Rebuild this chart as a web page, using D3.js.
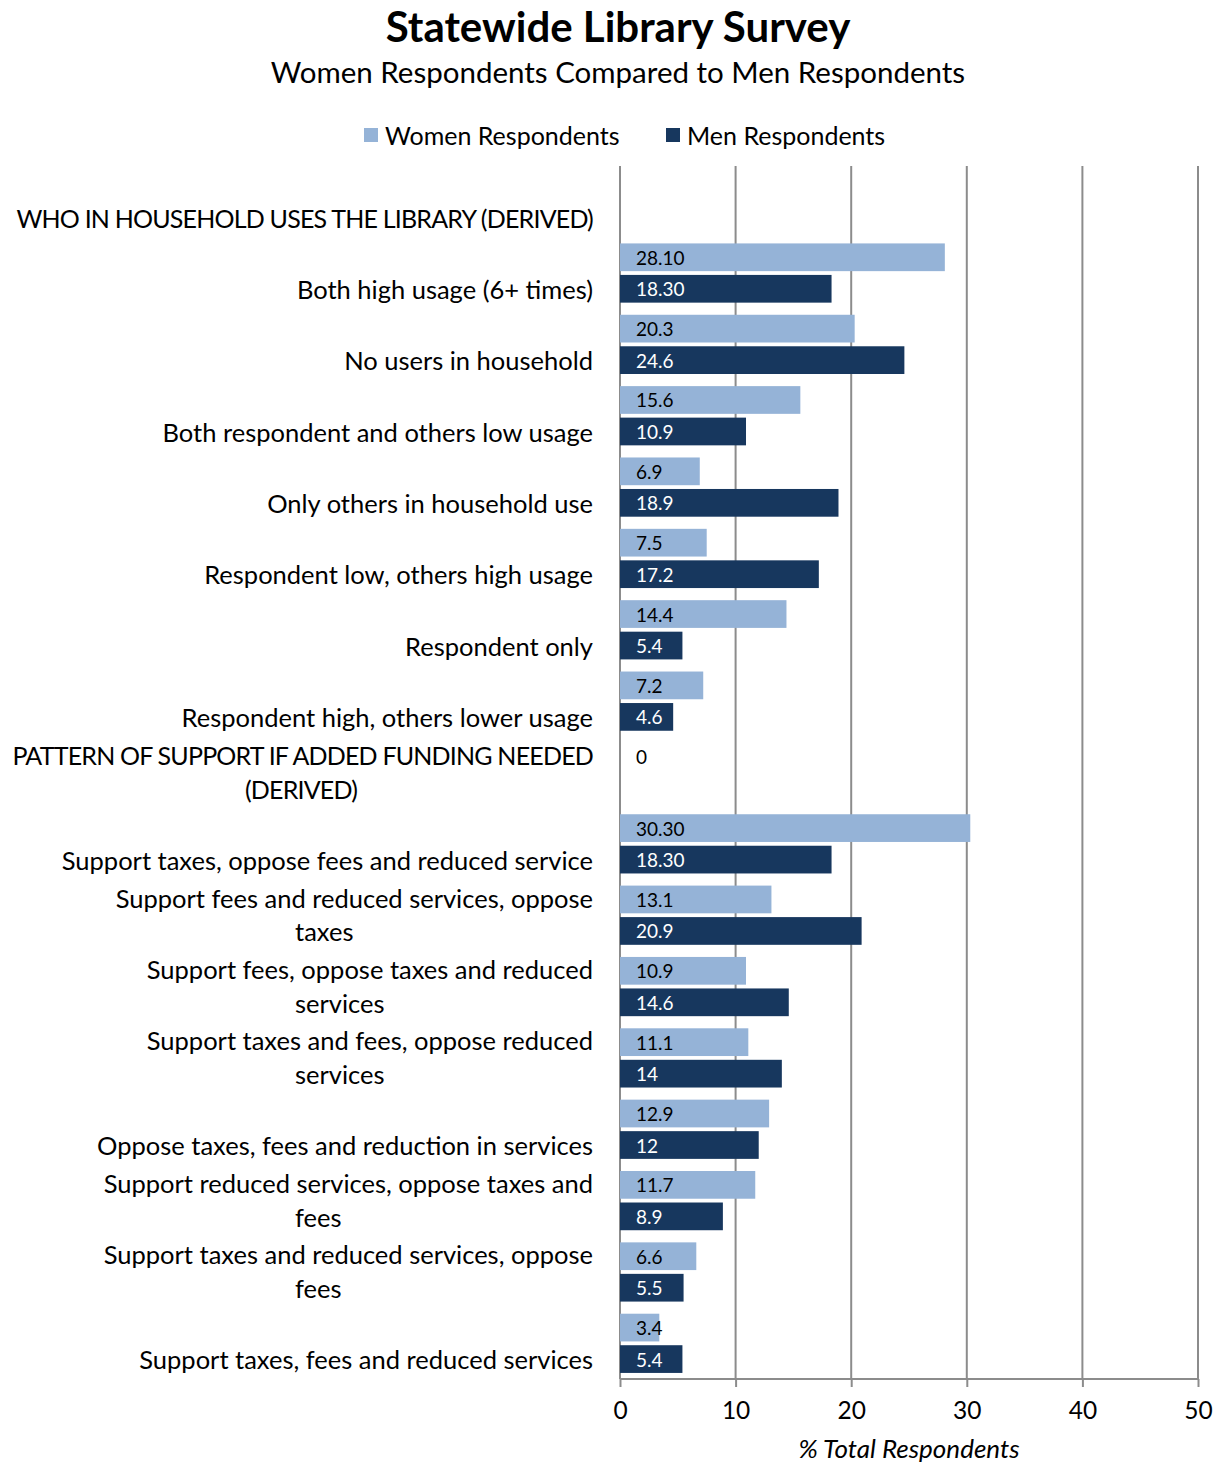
<!DOCTYPE html>
<html><head><meta charset="utf-8">
<script src="https://cdn.jsdelivr.net/npm/d3@7"></script>
<style>body{margin:0;background:#fff}svg{display:block}text{font-family:Lato,"Open Sans",sans-serif}</style>
</head><body><svg id="c" width="1220" height="1463"></svg>
<script>
const categories = [
  ["WHO IN HOUSEHOLD USES THE LIBRARY (DERIVED)"],
  ["Both high usage (6+ times)"],
  ["No users in household"],
  ["Both respondent and others low usage"],
  ["Only others in household use"],
  ["Respondent low, others high usage"],
  ["Respondent only"],
  ["Respondent high, others lower usage"],
  ["PATTERN OF SUPPORT IF ADDED FUNDING NEEDED", "(DERIVED)"],
  ["Support taxes, oppose fees and reduced service"],
  ["Support fees and reduced services, oppose", "taxes"],
  ["Support fees, oppose taxes and reduced", "services"],
  ["Support taxes and fees, oppose reduced", "services"],
  ["Oppose taxes, fees and reduction in services"],
  ["Support reduced services, oppose taxes and", "fees"],
  ["Support taxes and reduced services, oppose", "fees"],
  ["Support taxes, fees and reduced services"]
];
const womenValues = [null, 28.10, 20.3, 15.6, 6.9, 7.5, 14.4, 7.2, 0, 30.30, 13.1, 10.9, 11.1, 12.9, 11.7, 6.6, 3.4];
const menValues   = [null, 18.30, 24.6, 10.9, 18.9, 17.2, 5.4, 4.6, null, 18.30, 20.9, 14.6, 14, 12, 8.9, 5.5, 5.4];
const womenLabels = ["", "28.10", "20.3", "15.6", "6.9", "7.5", "14.4", "7.2", "0", "30.30", "13.1", "10.9", "11.1", "12.9", "11.7", "6.6", "3.4"];
const menLabels   = ["", "18.30", "24.6", "10.9", "18.9", "17.2", "5.4", "4.6", "", "18.30", "20.9", "14.6", "14", "12", "8.9", "5.5", "5.4"];
const seriesNames = ["Women Respondents", "Men Respondents"];
const xTicks = [0, 10, 20, 30, 40, 50];
const colors = ["#95B3D7", "#17375E"];

const svg = d3.select("#c");
const pLeft = 620, pRight = 1198, pTop = 166, pBottom = 1379;
const x = d3.scaleLinear().domain([0, 50]).range([pLeft, pRight]);
const y = d3.scaleBand().domain(d3.range(categories.length)).range([pTop, pBottom]).paddingInner(0.17).paddingOuter(0.085);
const ys = d3.scaleBand().domain([0, 1]).range([0, y.bandwidth()]).paddingInner(0.12);

// title
svg.append("text").attr("x", 618).attr("y", 42).attr("text-anchor", "middle")
  .style("font-weight", "bold").style("font-size", "42px").text("Statewide Library Survey");
svg.append("text").attr("x", 618).attr("y", 83).attr("text-anchor", "middle")
  .style("font-size", "29.5px").text("Women Respondents Compared to Men Respondents");

// legend
const legX = [364, 666];
legX.forEach((lx, i) => {
  svg.append("rect").attr("x", lx).attr("y", 128).attr("width", 14).attr("height", 14).attr("fill", colors[i]);
  svg.append("text").attr("x", lx + 21).attr("y", 135).attr("dominant-baseline", "central")
    .style("font-size", "25px").text(seriesNames[i]);
});

// gridlines
svg.append("g").selectAll("line").data(xTicks).join("line")
  .attr("x1", d => x(d)).attr("x2", d => x(d)).attr("y1", pTop).attr("y2", pBottom)
  .attr("stroke", "#8c8c8c").attr("stroke-width", 2);

// bars
const series = [womenValues, menValues];
const labels = [womenLabels, menLabels];
series.forEach((vals, s) => {
  const g = svg.append("g");
  g.selectAll("rect").data(vals.map((v, i) => ({v, i})).filter(d => d.v !== null)).join("rect")
    .attr("x", x(0)).attr("y", d => y(d.i) + ys(s))
    .attr("width", d => x(d.v) - x(0)).attr("height", ys.bandwidth())
    .attr("fill", colors[s]);
  g.selectAll("text").data(labels[s].map((t, i) => ({t, i})).filter(d => d.t !== "")).join("text")
    .attr("x", x(0) + 16).attr("y", d => y(d.i) + ys(s) + ys.bandwidth() / 2)
    .attr("dominant-baseline", "central")
    .attr("fill", s === 0 ? "#000" : "#fff")
    .style("font-size", "19px").text(d => d.t);
});

// x axis
const ax = svg.append("g").attr("transform", `translate(0,${pBottom})`)
  .call(d3.axisBottom(x).tickValues(xTicks).tickSize(8).tickPadding(15));
ax.select(".domain").attr("stroke", "#8c8c8c").attr("stroke-width", 2).attr("d", `M${pLeft},0H${pRight}`);
ax.selectAll(".tick line").attr("stroke", "#8c8c8c").attr("stroke-width", 2);
ax.selectAll(".tick text").style("font-size", "24.5px").attr("fill", "#000").style("font-family", "Lato");
svg.append("text").attr("x", 909).attr("y", 1458).attr("text-anchor", "middle")
  .style("font-size", "26px").style("font-style", "italic").text("% Total Respondents");

// category labels
const cg = svg.append("g");
categories.forEach((lines, i) => {
  const cy = y(i) + y.bandwidth() / 2 + 16;
  const n = lines.length;
  lines.forEach((ln, k) => {
    const ly = cy - (n - 1 - k) * 33.5;
    const t = cg.append("text").attr("y", ly).attr("dominant-baseline", "central").style("font-size", "25.5px").text(ln);
    if (ln === ln.toUpperCase()) t.style("letter-spacing", "-0.8px").style("font-size", "25px");
    if (k === 0) t.attr("x", 593).attr("text-anchor", "end");
    else if (ln === "(DERIVED)") t.attr("x", 301).attr("text-anchor", "middle");
    else t.attr("x", 295).attr("text-anchor", "start");
  });
});
</script></body></html>
